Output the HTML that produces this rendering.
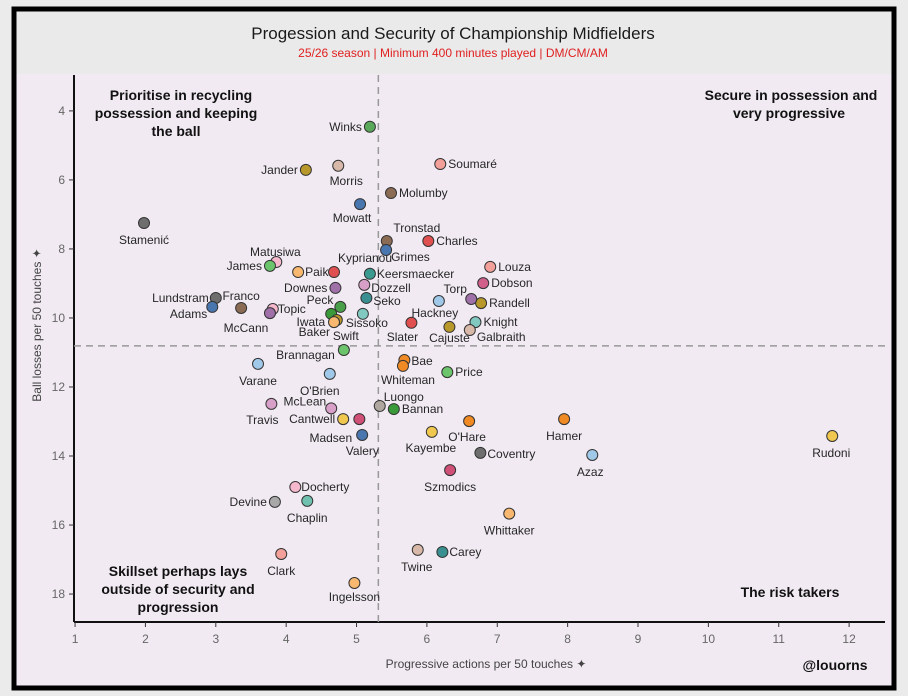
<!DOCTYPE html>
<html><head><meta charset="utf-8"><style>
body{margin:0;background:#ebebeb;width:908px;height:696px;overflow:hidden;font-family:"Liberation Sans",sans-serif}
svg{position:absolute;left:0;top:0}
</style></head><body>
<svg width="908" height="696" viewBox="0 0 908 696">
<rect x="14" y="9" width="880" height="679" fill="#eaeaea" stroke="#000" stroke-width="5"/>
<rect x="16.5" y="74" width="875" height="611.5" fill="#f1eaf3"/>
<text x="453" y="39" text-anchor="middle" font-size="17" fill="#1a1a1a">Progession and Security of Championship Midfielders</text>
<text x="453" y="57" text-anchor="middle" font-size="12" fill="#e02020">25/26 season | Minimum 400 minutes played | DM/CM/AM</text>
<g id="axes"></g>
<g id="refs"></g>
<g id="marks"></g>
<g id="labels" font-size="12" fill="#262626"></g>
<g font-weight="bold" font-size="14" fill="#111" text-anchor="middle">
<text x="181" y="100"><tspan x="181">Prioritise in recycling</tspan><tspan x="176" dy="18">possession and keeping</tspan><tspan x="176" dy="18">the ball</tspan></text>
<text x="791" y="100"><tspan x="791">Secure in possession and</tspan><tspan x="789" dy="18">very progressive</tspan></text>
<text x="178" y="576"><tspan x="178">Skillset perhaps lays</tspan><tspan x="178" dy="18">outside of security and</tspan><tspan x="178" dy="18">progression</tspan></text>
<text x="790" y="597">The risk takers</text>
<text x="835" y="670">@louorns</text>
</g>
<text x="486" y="668" text-anchor="middle" font-size="12" fill="#444" font-family="'Liberation Sans Narrow','Liberation Sans',sans-serif">Progressive actions per 50 touches ✦</text>
<text transform="translate(41,325) rotate(-90)" text-anchor="middle" font-size="12" fill="#444" font-family="'Liberation Sans Narrow','Liberation Sans',sans-serif">Ball losses per 50 touches ✦</text>
</svg>
<script>
const names=["Winks","Jander","Morris","Soumaré","Molumby","Mowatt","Stamenić","Tronstad","Grimes","Charles","Matusiwa","James","Kyprianou","Paik","Louza","Keersmaecker","Dobson","Dozzell","Downes","Lundstram","Randell","Torp","Hackney","Seko","Franco","Adams","Topic","McCann","Peck","Iwata","Sissoko","Swift","Baker","Slater","Knight","Galbraith","Cajuste","Brannagan","Varane","Bae","Whiteman","Price","O'Brien","Travis","McLean","Luongo","Bannan","Cantwell","Valery","Madsen","O'Hare","Kayembe","Hamer","Coventry","Azaz","Rudoni","Szmodics","Docherty","Devine","Chaplin","Whittaker","Clark","Twine","Carey","Ingelsson"];
const progressive=[5.19,4.28,4.74,6.19,5.49,5.05,1.98,5.43,5.42,6.02,3.86,3.77,4.68,4.17,6.90,5.19,6.80,5.11,4.70,3.00,6.77,6.63,6.17,5.14,3.36,2.95,3.81,3.77,4.77,4.64,5.09,4.72,4.68,5.78,6.69,6.61,6.32,4.82,3.60,5.68,5.66,6.29,4.62,3.79,4.64,5.33,5.53,4.81,5.04,5.08,6.60,6.07,7.95,6.76,8.35,11.76,6.33,4.13,3.84,4.30,7.17,3.93,5.87,6.22,4.97];
const ballLosses=[4.46,5.71,5.59,5.54,6.38,6.70,7.25,7.77,8.03,7.77,8.38,8.49,8.67,8.67,8.52,8.72,8.99,9.04,9.13,9.42,9.57,9.45,9.51,9.42,9.71,9.68,9.74,9.86,9.68,9.88,9.88,10.06,10.12,10.14,10.12,10.35,10.26,10.93,11.33,11.22,11.39,11.57,11.62,12.49,12.62,12.55,12.64,12.93,12.93,13.39,12.99,13.30,12.93,13.91,13.97,13.42,14.41,14.90,15.33,15.30,15.67,16.84,16.72,16.78,17.68];
const xTicks=[1,2,3,4,5,6,7,8,9,10,11,12];
const yTicks=[4,6,8,10,12,14,16,18];
const refX=5.31, refY=10.81;
const colors=["#5aa85a","#b8982a","#d8b8a8","#f4a09a","#8c6b55","#4a76b0","#6e6e6e","#8c6b55","#4a76b0","#e05050","#f6b8cc","#6cc46c","#e05050","#f8b870","#f4a09a","#3a9a90","#d0608a","#d8a0c8","#a070a8","#6e6e6e","#b8982a","#a070a8","#a0c8e8","#3a9090","#8c6b55","#4a76b0","#f6b8cc","#a070a8","#4aa04a","#3a9a3a","#80c8c0","#b8982a","#f8b870","#e05050","#80c8c0","#d8b8a8","#b8982a","#6cc46c","#a0c8e8","#f08a24","#f08a24","#6cc46c","#a0c8e8","#d8a0c8","#d8a0c8","#b0a8a0","#3a9a3a","#f0c850","#d05078","#4a76b0","#f08a24","#f0c850","#f08a24","#6e6e6e","#a0c8e8","#f0c850","#d05078","#f6b8cc","#a8a8a8","#70c0b0","#f8b870","#f4a09a","#d8b8a8","#3a9090","#f8b870"];
const labelPos=[["end",-8,4],["end",-8,4],["middle",8,19],["start",8,4],["start",8,4],["middle",-8,18],["middle",0,21],["middle",30,-9],["start",5,11],["start",8,4],["middle",-1,-6],["end",-8,4],["middle",31,-10],["start",7,4],["start",8,4],["start",7,4],["start",8,4],["start",7,7],["end",-8,4],["end",-7,4],["start",8,4],["middle",-16,-6],["middle",-4,16],["start",7,7],["middle",0,-8],["end",-5,11],["start",5,4],["middle",-24,19],["end",-7,-3],["end",-6,12],["start",-17,13],["middle",9,20],["end",-4,14],["middle",-9,18],["start",8,4],["start",7,11],["middle",0,15],["end",-9,9],["middle",0,21],["start",7,5],["middle",5,18],["start",8,4],["middle",-10,21],["middle",-9,20],["end",-5,-3],["start",4,-5],["start",8,4],["end",-8,4],["middle",3,36],["end",-10,7],["middle",-2,20],["middle",-1,20],["middle",0,21],["start",7,5],["middle",-2,21],["middle",-1,21],["middle",0,21],["start",6,4],["end",-8,4],["middle",0,21],["middle",0,21],["middle",0,21],["middle",-1,21],["start",7,4],["middle",0,18]];
const NS="http://www.w3.org/2000/svg";
const X0=74,X1=885,Y0=75,Y1=622, xMin=0.985,xMax=12.51,yMin=2.96,yMax=18.81;
const sx=v=>X0+(v-xMin)/(xMax-xMin)*(X1-X0);
const sy=v=>Y0+(v-yMin)/(yMax-yMin)*(Y1-Y0);
function mk(tag,attrs,parent){const e=document.createElementNS(NS,tag);for(const k in attrs)e.setAttribute(k,attrs[k]);parent.appendChild(e);return e;}
const axes=document.getElementById('axes');
let a=mk('line',{x1:X0,y1:Y0,x2:X0,y2:Y1,stroke:'#111','stroke-width':2},axes);


a=mk('line',{x1:X0,y1:Y1,x2:X1,y2:Y1,stroke:'#111','stroke-width':2},axes);


const tf="'Liberation Sans Narrow','Liberation Sans',sans-serif";
xTicks.forEach(t=>{
  const x=sx(t);
  mk('line',{x1:x,y1:Y1,x2:x,y2:Y1+5,stroke:'#333','stroke-width':1},axes);
  const tx=mk('text',{x:x,y:Y1+21,'text-anchor':'middle','font-size':12,fill:'#666','font-family':tf},axes);
  tx.textContent=t;
  
  
});
yTicks.forEach(t=>{
  const y=sy(t);
  mk('line',{x1:X0-5,y1:y,x2:X0,y2:y,stroke:'#333','stroke-width':1},axes);
  const tx=mk('text',{x:X0-9,y:y+4,'text-anchor':'end','font-size':12,fill:'#666','font-family':tf},axes);
  tx.textContent=t;
  
  
});
const refs=document.getElementById('refs');
let r=mk('line',{x1:sx(refX),y1:Y0,x2:sx(refX),y2:Y1,stroke:'#999','stroke-width':1.5,'stroke-dasharray':'7,5'},refs);


r=mk('line',{x1:X0,y1:sy(refY),x2:X1,y2:sy(refY),stroke:'#999','stroke-width':1.5,'stroke-dasharray':'7,5'},refs);


const marks=document.getElementById('marks'), labels=document.getElementById('labels');
names.forEach((n,i)=>{
  const cx=sx(progressive[i]), cy=sy(ballLosses[i]);
  const c=mk('circle',{cx:cx,cy:cy,r:5.5,fill:colors[i],stroke:'#333','stroke-width':1},marks);
  
  
  const p=labelPos[i];
  const t=mk('text',{x:cx+p[1],y:cy+p[2],'text-anchor':p[0]},labels);
  t.textContent=n;
  
  
});
</script>
</body></html>
